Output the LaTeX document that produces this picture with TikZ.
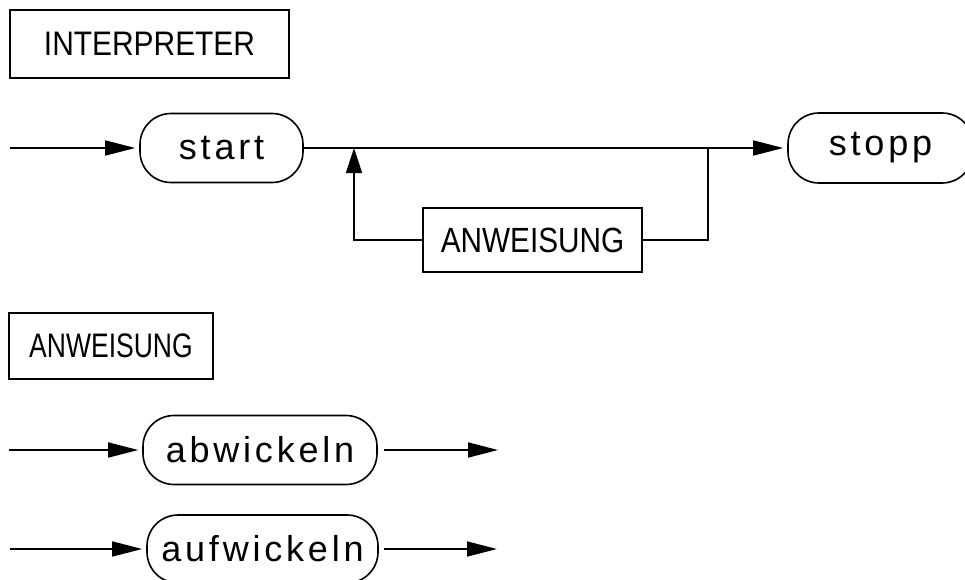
\documentclass[tikz,border=0pt]{standalone}
\usepackage{fontspec}
\setmainfont{Liberation Sans}
\newfontfamily\boxfont[FakeStretch=0.78]{Liberation Sans}
\newfontfamily\loopfont[FakeStretch=0.85]{Liberation Sans}
\newfontfamily\titlefont[FakeStretch=0.88]{Liberation Sans}
\usetikzlibrary{arrows.meta}
\newcommand\gp{\hspace{3.8pt}}
\begin{document}
\begin{tikzpicture}[x=1pt,y=-1pt,
  line width=1.6pt,
  namebox/.style={draw, rectangle, inner sep=0pt, font=\boxfont\fontsize{34}{38}\selectfont},
  termnode/.style={draw, rectangle, rounded corners=31pt, inner sep=0pt, minimum height=69pt, font=\fontsize{36}{40}\selectfont},
  harr/.style={-{Triangle[length=30pt,width=15pt]}, shorten >=4pt},
  harrfree/.style={-{Triangle[length=30pt,width=15pt]}},
  varr/.style={-{Triangle[length=25pt,width=16pt]}}]
\clip (0,0) rectangle (965,580);
% headings
\node[namebox, minimum width=279pt, minimum height=68pt, font=\titlefont\fontsize{34}{38}\selectfont] (interp) at (149.5,44) {INTERPRETER\hspace{8pt}};
\node[namebox, minimum width=204pt, minimum height=66pt] (anwhead) at (111,346) {ANWEISUNG};
% interpreter diagram
\node[termnode, minimum width=163pt] (start) at (221.5,148) {s\gp t\gp a\gp r\gp t};
\node[termnode, minimum width=185pt, minimum height=70pt] (stopp) at (880.5,148) {s\gp t\gp o\gp p\gp p};
\node[namebox, minimum width=219pt, minimum height=64pt, font=\loopfont\fontsize{35}{38}\selectfont] (anw) at (532.5,240) {ANWEISUNG};
\coordinate (in1) at (10,148);
\coordinate (j1) at (354,148);
\coordinate (j2) at (708,148);
\draw[harr] (in1) -- (start.west);
\draw[harr] (start.east) -- (stopp.west);
\draw (anw.east) -| (j2);
\draw[varr] (anw.west) -| (j1);
% anweisung diagram
\node[termnode, minimum width=234pt] (abw) at (260,450) {a\gp b\gp w\gp i\gp c\gp k\gp e\gp l\gp n};
\node[termnode, minimum width=231pt, minimum height=68pt] (aufw) at (262.5,549) {a\gp u\gp f\gp w\gp i\gp c\gp k\gp e\gp l\gp n};
\coordinate (in2) at (9,450);
\coordinate (out2) at (498,450);
\coordinate (in3) at (10,549);
\coordinate (out3) at (497,549);
\draw[harr] (in2) -- (abw.west);
\draw[harrfree] ([xshift=6pt]abw.east) -- (out2);
\draw[harr] (in3) -- (aufw.west);
\draw[harrfree] ([xshift=5pt]aufw.east) -- (out3);
\end{tikzpicture}
\end{document}
